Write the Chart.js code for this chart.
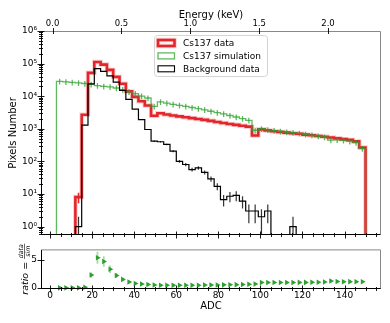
<!DOCTYPE html>
<html>
<head>
<meta charset="utf-8">
<script src="https://cdn.jsdelivr.net/npm/chart.js@4.4.0/dist/chart.umd.min.js"></script>
<style>
  html, body { margin: 0; padding: 0; background: #fff; }
  #wrap { position: relative; width: 390px; height: 323px; }
  #mainBox { position: absolute; left: 0; top: 0; width: 390px; height: 248px; }
  #ratioBox { position: absolute; left: 0; top: 240px; width: 390px; height: 83px; }
</style>
</head>
<body>
<div id="wrap">
  <div id="mainBox"><canvas id="mainChart" width="390" height="248"></canvas></div>
  <div id="ratioBox"><canvas id="ratioChart" width="390" height="83"></canvas></div>
</div>
<script>
// bins: left edges in ADC, width 3
const BIN_W = 3;
const binLo = [0,3,6,9,12,15,18,21,24,27,30,33,36,39,42,45,48,51,54,57,60,63,66,69,72,75,78,81,84,87,90,93,96,99,102,105,108,111,114,117,120,123,126,129,132,135,138,141,144,147];

const seriesNames = ['Cs137 data', 'Cs137 simulation', 'Background data'];

// counts per bin
const cs137Data = [0,0,0,0,8,2700,52000,112000,93000,64000,39000,24000,14000,9500,7000,5200,2500,3000,2750,2550,2400,2250,2120,2000,1880,1750,1620,1500,1400,1320,1240,1160,620,960,890,840,800,760,730,700,660,630,600,570,540,510,480,455,410,265];
const cs137Sim = [0,28500,27500,26500,25500,24500,23000,21000,20000,19400,17800,16000,13500,12000,10000,8800,4900,6700,6100,5600,5200,4850,4500,4150,3800,3450,3150,2850,2550,2300,2050,1800,900,1000,930,880,840,790,760,720,680,640,600,560,450,460,440,415,375,245];
const cs137SimErr = [0,5700,5500,5300,5100,4900,4600,4200,4000,3900,3600,3200,2700,2400,2000,1760,980,1340,1220,1120,1040,970,900,830,760,690,630,570,510,460,410,360,180,200,186,176,168,158,152,144,136,128,120,112,90,92,88,83,75,49];
const bkgData = [0,0,0,0,1,1300,24000,70000,58000,42000,27000,15000,8000,4000,1900,950,415,400,330,205,100,80,56,63,46,29,17,6.7,8.5,9,6,3,3,2,3,0,0,0,1,0,0,0,0,0,0,0,0,0,0,0];

// ratio data / sim
const ratioVals = [null,0,0,0,0,0.11,2.26,5.33,4.65,3.3,2.19,1.5,1.04,0.79,0.7,0.59,0.51,0.45,0.45,0.46,0.46,0.46,0.47,0.48,0.49,0.51,0.51,0.53,0.55,0.57,0.6,0.64,0.69,0.96,0.96,0.95,0.95,0.96,0.96,0.97,0.97,0.98,1.0,1.02,1.2,1.11,1.09,1.1,1.09,1.08];
const ratioErr = [0,0,0,0,0,0.02,0.45,1.05,0.93,0.66,0.44,0.3,0.21,0.16,0.14,0.12,0.1,0.09,0.09,0.09,0.09,0.09,0.09,0.1,0.1,0.1,0.1,0.11,0.11,0.11,0.12,0.13,0.14,0.19,0.19,0.19,0.19,0.19,0.19,0.19,0.19,0.2,0.2,0.2,0.24,0.22,0.22,0.22,0.22,0.22];

// ticks
const yTickValues = [1, 10, 100, 1000, 10000, 100000, 1000000];
const yTickLabels = ['10⁰','10¹','10²','10³','10⁴','10⁵','10⁶'];
const adcTicks = [0,20,40,60,80,100,120,140];
const energyTicks = [0, 0.5, 1.0, 1.5, 2.0];
const energyTickLabels = ['0.0','0.5','1.0','1.5','2.0'];
const ratioTicks = [0, 5];

// axis ranges
const ADC_MIN = -4.35, ADC_MAX = 157.35;
const ADC_PER_KEV = 65.5, ADC_AT_ZERO_KEV = 1.15;
const Y_MIN = 0.55, Y_MAX = 1e6;
const FLOOR = 1e-3;

Chart.defaults.font.family = "'DejaVu Sans', sans-serif";
Chart.defaults.color = '#000';

const RED = '#e3262b', HALO = 'rgba(228,40,40,0.22)', GREEN = 'rgba(44,160,44,0.75)';

// helpers
function histLine(vals) {
  const pts = vals.map((v, i) => ({x: binLo[i], y: v > 0 ? v : FLOOR}));
  const end = binLo[binLo.length - 1] + BIN_W;
  pts.push({x: end, y: vals[vals.length - 1] || FLOOR});
  pts.push({x: end, y: FLOOR});
  return pts;
}
function errBars(vals, errs, floor) {
  const pts = [];
  vals.forEach((v, i) => {
    if (v === null || !errs[i]) return;
    const c = binLo[i] + BIN_W / 2;
    pts.push({x: c, y: Math.max(v - errs[i], floor)}, {x: c, y: v + errs[i]}, {x: c, y: null});
  });
  return pts;
}
function minorLog() {
  const out = [];
  for (let e = -1; e <= 5; e++) for (let k = 2; k <= 9; k++) out.push(k * Math.pow(10, e));
  return out;
}
function minorAdc() {
  const out = [];
  for (let v = 5; v <= 155; v += 5) if (v % 20) out.push(v);
  return out;
}

function drawFrame(chart) {
  const {ctx, chartArea: a} = chart;
  const l = a.left + 0.5, r = a.right - 0.5, t = a.top + 0.5, b = a.bottom - 0.5;
  ctx.save();
  ctx.lineWidth = 1;
  ctx.strokeStyle = '#888';
  ctx.beginPath(); ctx.moveTo(l, t); ctx.lineTo(r, t); ctx.lineTo(r, b); ctx.stroke();
  ctx.strokeStyle = '#000';
  ctx.beginPath(); ctx.moveTo(l, t); ctx.lineTo(l, b); ctx.lineTo(r, b); ctx.stroke();
  ctx.restore();
}
function drawTicks(chart, marks) {
  const {ctx, chartArea: a} = chart;
  ctx.save();
  ctx.strokeStyle = '#000';
  ctx.lineWidth = 0.9;
  ctx.beginPath();
  marks.forEach(m => {
    const s = chart.scales[m.scale];
    m.values.forEach(v => {
      if (v < s.min || v > s.max) return;
      const p = Math.round(s.getPixelForValue(v)) + 0.5;
      if (m.edge === 'left') { ctx.moveTo(a.left - m.len, p); ctx.lineTo(a.left + m.len, p); }
      else if (m.edge === 'bottom') { ctx.moveTo(p, a.bottom - m.len); ctx.lineTo(p, a.bottom + m.len); }
      else { ctx.moveTo(p, a.top - m.len); ctx.lineTo(p, a.top + m.len); }
    });
  });
  ctx.stroke();
  ctx.restore();
}

// legend inside main panel
const histLegend = {
  id: 'histLegend',
  afterDraw(chart) {
    const ctx = chart.ctx;
    const x = 154.5, y = 35.5, w = 113, h = 41;
    ctx.save();
    ctx.beginPath();
    ctx.roundRect(x, y, w, h, 3);
    ctx.fillStyle = 'rgba(255,255,255,0.85)';
    ctx.fill();
    ctx.strokeStyle = '#d4d4d4';
    ctx.lineWidth = 1;
    ctx.stroke();
    const styles = [
      [{c: HALO, w: 4.5}, {c: RED, w: 2.6}],
      [{c: GREEN, w: 1.3}],
      [{c: '#000', w: 1.1}]
    ];
    ctx.font = "9px 'DejaVu Sans'";
    ctx.textBaseline = 'middle';
    seriesNames.forEach((name, i) => {
      const cy = 43 + i * 12.9;
      styles[i].forEach(st => {
        ctx.strokeStyle = st.c; ctx.lineWidth = st.w;
        ctx.strokeRect(158, cy - 3, 16.5, 6);
      });
      ctx.fillStyle = '#000';
      ctx.fillText(name, 183, cy + 0.5);
    });
    ctx.restore();
  }
};

const mainDecor = {
  id: 'mainDecor',
  afterDatasetsDraw(chart) {
    drawFrame(chart);
    drawTicks(chart, [
      {scale: 'y', edge: 'left', values: yTickValues, len: 3.5},
      {scale: 'y', edge: 'left', values: minorLog(), len: 2},
      {scale: 'x', edge: 'bottom', values: adcTicks, len: 3.5},
      {scale: 'x', edge: 'bottom', values: minorAdc(), len: 2},
      {scale: 'xE', edge: 'top', values: energyTicks, len: 3}
    ]);
  }
};

const histDs = (label, data, color, width, order) => ({
  label, data, borderColor: color, borderWidth: width, stepped: 'before',
  pointRadius: 0, fill: false, order, clip: 0
});
const errDs = (data, color, width, order) => ({
  data, borderColor: color, borderWidth: width, pointRadius: 0, fill: false,
  spanGaps: false, order, clip: 0
});

new Chart(document.getElementById('mainChart'), {
  type: 'line',
  data: {
    datasets: [
      histDs('halo', histLine(cs137Data), HALO, 4.5, 6),
      histDs(seriesNames[0], histLine(cs137Data), RED, 2.6, 5),
      errDs(errBars(cs137Data, cs137Data.map(Math.sqrt), FLOOR), RED, 1.5, 5),
      histDs(seriesNames[1], histLine(cs137Sim), GREEN, 1.3, 4),
      errDs(errBars(cs137Sim, cs137SimErr, FLOOR), GREEN, 1.3, 3),
      histDs(seriesNames[2], histLine(bkgData), '#000', 1.2, 1),
      errDs(errBars(bkgData, bkgData.map(Math.sqrt), FLOOR), 'rgba(0,0,0,0.8)', 1.2, 2)
    ]
  },
  options: {
    responsive: false,
    animation: false,
    events: [],
    layout: {padding: {left: 0, right: 9, top: 0, bottom: 0}},
    plugins: {legend: {display: false}, tooltip: {enabled: false}},
    scales: {
      x: {
        type: 'linear', position: 'bottom', min: ADC_MIN, max: ADC_MAX,
        grid: {display: false, drawTicks: false}, border: {display: false},
        ticks: {display: false},
        afterFit: s => { s.height = 13; }
      },
      xE: {
        type: 'linear', position: 'top',
        min: (ADC_MIN - ADC_AT_ZERO_KEV) / ADC_PER_KEV,
        max: (ADC_MAX - ADC_AT_ZERO_KEV) / ADC_PER_KEV,
        grid: {display: false, drawTicks: false}, border: {display: false},
        afterBuildTicks: s => { s.ticks = energyTicks.map(v => ({value: v})); },
        ticks: {autoSkip: false, padding: 2, font: {size: 8.5}, callback: (v, i) => energyTickLabels[i]},
        title: {display: true, text: 'Energy (keV)', font: {size: 10}, padding: {top: 9, bottom: 0}},
        afterFit: s => { s.height = 31; }
      },
      y: {
        type: 'logarithmic', position: 'left', min: Y_MIN, max: Y_MAX,
        grid: {display: false, drawTicks: false}, border: {display: false},
        afterBuildTicks: s => { s.ticks = yTickValues.map(v => ({value: v})); },
        ticks: {autoSkip: false, padding: 4, font: {size: 9}, callback: (v, i) => yTickLabels[i]},
        title: {display: true, text: 'Pixels Number', font: {size: 10}, padding: {top: 7, bottom: 0}},
        afterFit: s => { s.width = 41; }
      }
    }
  },
  plugins: [mainDecor, histLegend]
});

// ratio panel
const ratioDecor = {
  id: 'ratioDecor',
  afterDatasetsDraw(chart) {
    drawFrame(chart);
    const {ctx, chartArea: a} = chart;
    const y0 = Math.round(chart.scales.y.getPixelForValue(0)) + 0.5;
    ctx.save();
    ctx.strokeStyle = '#000'; ctx.lineWidth = 1; ctx.setLineDash([3.5, 2.5]);
    ctx.beginPath(); ctx.moveTo(a.left, y0); ctx.lineTo(a.right, y0); ctx.stroke();
    ctx.restore();
    drawTicks(chart, [
      {scale: 'y', edge: 'left', values: ratioTicks, len: 3.5},
      {scale: 'x', edge: 'bottom', values: adcTicks, len: 3.5},
      {scale: 'x', edge: 'bottom', values: minorAdc(), len: 2}
    ]);
  },
  afterDraw(chart) {
    const ctx = chart.ctx, a = chart.chartArea;
    ctx.save();
    ctx.translate(24, (a.top + a.bottom) / 2);
    ctx.rotate(-Math.PI / 2);
    ctx.fillStyle = '#000';
    const big = "italic 9.5px 'DejaVu Sans'", norm = "9.5px 'DejaVu Sans'", small = "italic 6.3px 'DejaVu Sans'";
    ctx.font = big; const w1 = ctx.measureText('ratio').width;
    ctx.font = norm; const w2 = ctx.measureText(' = ').width;
    ctx.font = small;
    const wf = Math.max(ctx.measureText('data').width, ctx.measureText('sim').width) + 1;
    let x = -(w1 + w2 + wf) / 2;
    ctx.textBaseline = 'alphabetic';
    ctx.font = big; ctx.fillText('ratio', x, 3.5); x += w1;
    ctx.font = norm; ctx.fillText(' = ', x, 3.5); x += w2;
    ctx.font = small; ctx.textAlign = 'center';
    ctx.fillText('data', x + wf / 2, -1.2);
    ctx.fillText('sim', x + wf / 2, 5.8);
    ctx.fillRect(x, 0, wf, 0.6);
    ctx.restore();
  }
};

const ratioPts = ratioVals.map((v, i) => v === null ? null : {x: binLo[i] + BIN_W / 2, y: v}).filter(p => p);

new Chart(document.getElementById('ratioChart'), {
  type: 'line',
  data: {
    datasets: [
      {data: errBars(ratioVals, ratioErr, -1), borderColor: 'rgba(44,160,44,0.4)', borderWidth: 1.8,
       pointRadius: 0, spanGaps: false, order: 2},
      {data: ratioPts, showLine: false, pointStyle: 'triangle', pointRotation: 90, pointRadius: 3.2,
       pointBackgroundColor: '#2ca02c', pointBorderColor: '#2ca02c', pointBorderWidth: 0, order: 1, clip: false}
    ]
  },
  options: {
    responsive: false,
    animation: false,
    events: [],
    layout: {padding: {left: 0, right: 9, top: 7, bottom: 0}},
    plugins: {legend: {display: false}, tooltip: {enabled: false}},
    scales: {
      x: {
        type: 'linear', position: 'bottom', min: ADC_MIN, max: ADC_MAX,
        grid: {display: false, drawTicks: false}, border: {display: false},
        afterBuildTicks: s => { s.ticks = adcTicks.map(v => ({value: v})); },
        ticks: {autoSkip: false, padding: 1, font: {size: 9}, maxRotation: 0, callback: v => String(v)},
        title: {display: true, text: 'ADC', font: {size: 10}, padding: {top: 0, bottom: 11}},
        afterFit: s => { s.height = 34; }
      },
      y: {
        type: 'linear', position: 'left', min: -0.2, max: 6.8,
        grid: {display: false, drawTicks: false}, border: {display: false},
        afterBuildTicks: s => { s.ticks = ratioTicks.map(v => ({value: v})); },
        ticks: {autoSkip: false, padding: 4, font: {size: 9}, callback: v => String(v)},
        afterFit: s => { s.width = 41; }
      }
    }
  },
  plugins: [ratioDecor]
});
</script>
</body>
</html>
